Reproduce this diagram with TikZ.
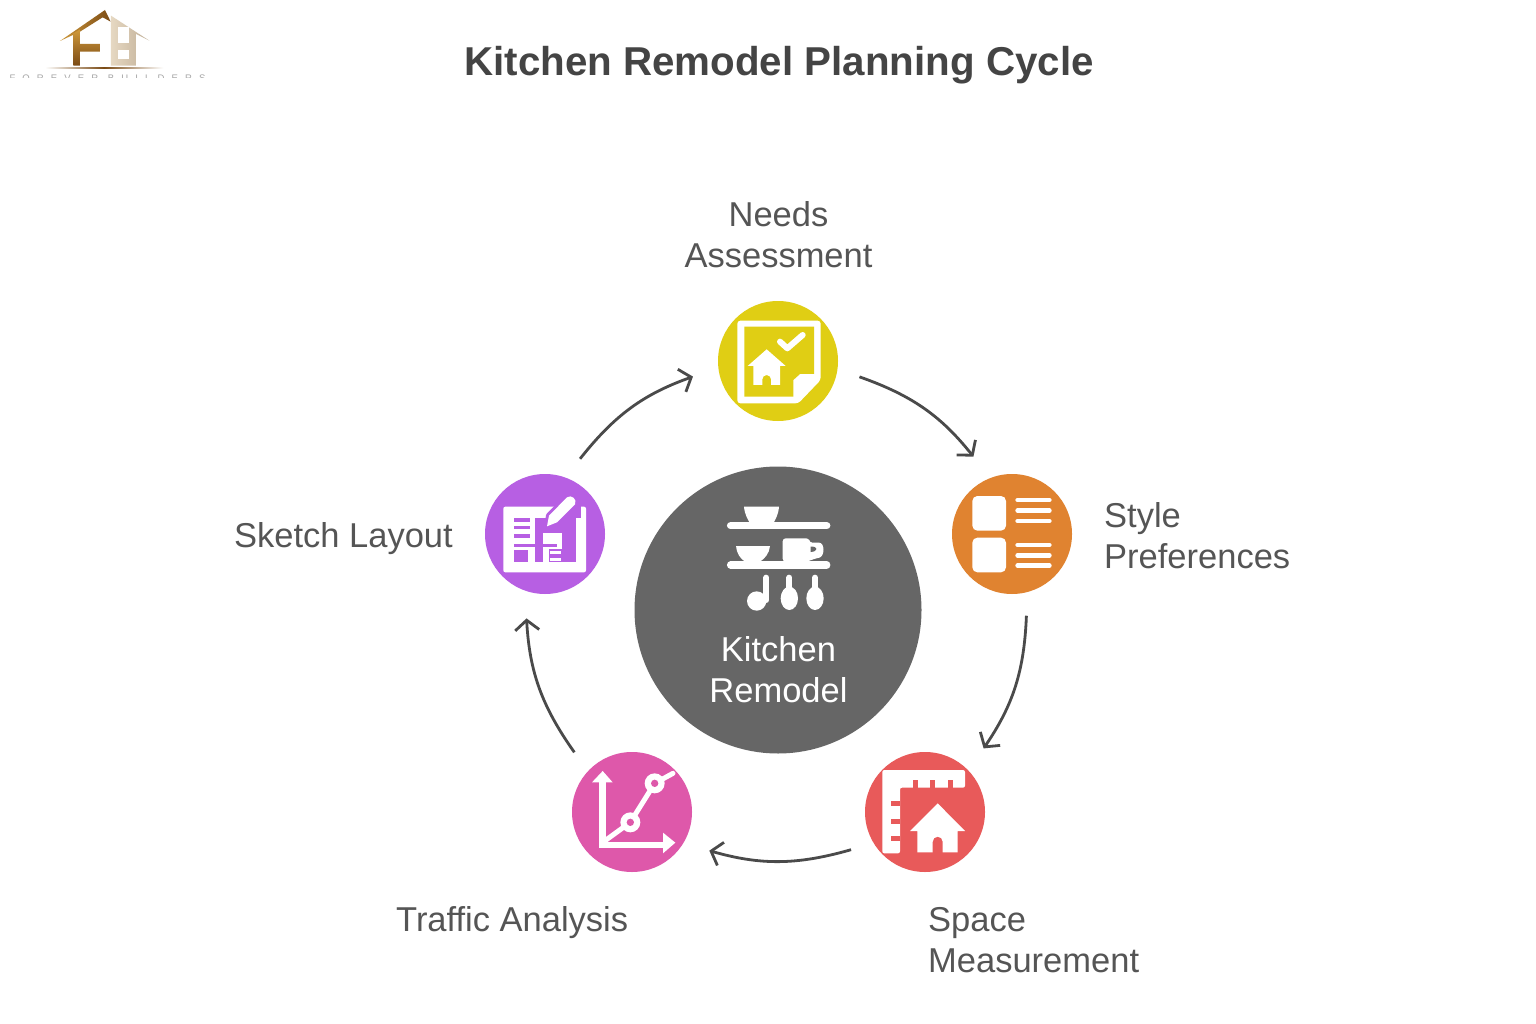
\documentclass[tikz,border=0pt]{standalone}
\usepackage{fontspec}
\setmainfont{Liberation Sans}
\usetikzlibrary{arrows.meta}
\definecolor{needscol}{HTML}{E0CE14}
\definecolor{stylecol}{HTML}{E08330}
\definecolor{spacecol}{HTML}{E85A5A}
\definecolor{trafficcol}{HTML}{DE58AA}
\definecolor{sketchcol}{HTML}{B75FE3}
\definecolor{hubcol}{HTML}{666666}
\definecolor{labelcol}{HTML}{555555}
\definecolor{titlecol}{HTML}{444444}
\definecolor{arrowcol}{HTML}{4A4A4A}
\definecolor{logobrown}{HTML}{7A4A14}
\definecolor{logogold}{HTML}{D09A3C}
\definecolor{logosand}{HTML}{E6D8C2}
\definecolor{logotan}{HTML}{BFAE96}
\tikzset{
  stage/.style={circle,minimum size=120pt,inner sep=0pt,outer sep=23pt},
  steplabel/.style={inner sep=0pt,text=labelcol,font=\fontsize{34.5}{41}\selectfont},
  flow/.style={draw=arrowcol,line width=2.8pt,-{Straight Barb[length=10pt,width=24pt]},shorten >=3.5pt,bend left=16},
  thickwhite/.style={draw=white,line cap=round,line join=round},
}
\begin{document}
\begin{tikzpicture}[x=1pt,y=-1pt]
  \useasboundingbox (0,0) rectangle (1536,1024);
  \fill[white] (0,0) rectangle (1536,1024);
  % logo
  \begin{scope}[scale=1/3]
    \shade[left color=logogold,right color=logobrown] (180,123) -- (315,30) -- (332,65) -- (308,52) -- (240,95) -- cycle;
    \shade[top color=logogold,bottom color=logobrown] (220,100) -- (240,88) -- (240,132) -- (300,132) -- (300,155) -- (240,155) -- (240,197) -- (220,197) -- cycle;
    \shade[left color=logosand,right color=logotan] (333,47) -- (448,122) -- (408,102) -- (408,197) -- (333,197) -- cycle;
    \fill[white] (355,80) rectangle (388,128);
    \fill[white] (355,150) rectangle (388,178);
    \shade[left color=white,right color=logobrown] (135,204) rectangle (312,207);
    \shade[left color=logobrown,right color=white] (312,204) rectangle (490,207);
    \clip (0,222) rectangle (640,232);
    \node[inner sep=0pt,anchor=north west,text=gray!70,font=\fontsize{9.5}{9.5}\selectfont\addfontfeatures{LetterSpace=75}] (logotext) at (28,225) {FOREVER BUILDERS};
  \end{scope}
  \node[inner sep=0pt,text=titlecol,font=\fontsize{40.3}{48}\selectfont\bfseries] (title) at (779,65) {Kitchen Remodel Planning Cycle};

  % circles
  \node[stage,fill=needscol] (needs) at (778,361) {};
  \node[stage,fill=stylecol] (style) at (1012,534) {};
  \node[stage,fill=spacecol] (space) at (925,812) {};
  \node[stage,fill=trafficcol] (traffic) at (632,812) {};
  \node[stage,fill=sketchcol] (sketch) at (545,534) {};
  \node[circle,fill=hubcol,minimum size=287pt,inner sep=0pt] (hub) at (778,610) {};

  % cycle arrows
  \draw[flow] (needs.-11) to (style.116);
  \draw[flow] (style.-80) to (space.47);
  \draw[flow] (space.-153) to (traffic.-27);
  \draw[flow] (traffic.134) to (sketch.257);
  \draw[flow] (sketch.65) to (needs.190);

  % labels
  \node[steplabel,align=center] (needslabel) at (778.5,235) {Needs\\Assessment};
  \node[steplabel,align=left,anchor=west] (stylelabel) at (1104,535.5) {Style\\Preferences};
  \node[steplabel,align=left,anchor=west] (spacelabel) at (928,940) {Space\\Measurement};
  \node[steplabel,anchor=west] (trafficlabel) at (396,923) {Traffic Analysis};
  \node[steplabel,anchor=east] (sketchlabel) at (453,539) {Sketch Layout};
  \node[inner sep=0pt,align=center,text=white,font=\fontsize{34.5}{41}\selectfont] (hublabel) at (778.5,670) {Kitchen\\Remodel};

  % needs icon
  \begin{scope}[shift={(700,290)},scale=1/3]
    \fill[white,rounded corners=3pt] (112,92) -- (362,92) -- (362,270) -- (295,340) -- (112,340) -- cycle;
    \fill[needscol] (133,110) -- (342,110) -- (342,252) -- (300,252) -- (280,270) -- (280,320) -- (133,320) -- cycle;
    \draw[thickwhite,line width=6pt] (240,155) -- (262,175) -- (308,135);
    \fill[white] (200,178) -- (257,228) -- (240,228) -- (240,285) -- (213,285) -- (213,268) arc (0:-180:13) -- (187,285) -- (160,285) -- (160,228) -- (143,228) -- cycle;
  \end{scope}

  % style icon
  \begin{scope}[shift={(940,465)},scale=1/3]
    \fill[white,rounded corners=5pt] (97,93) rectangle (198,197);
    \fill[white,rounded corners=5pt] (97,218) rectangle (198,322);
    \foreach \ypos in {105,137,168,240,271,302}
      \draw[thickwhite,line width=4.7pt] (233,\ypos) -- (328,\ypos);
  \end{scope}

  % space icon
  \begin{scope}[shift={(855,745)},scale=1/3]
    \fill[white,rounded corners=2pt] (82,75) -- (330,75) -- (330,128) -- (135,128) -- (135,325) -- (82,325) -- cycle;
    \foreach \xpos in {180,232,285}
      \draw[spacecol,line width=5pt] (\xpos,128) -- (\xpos,105);
    \foreach \ypos in {175,228,280}
      \draw[spacecol,line width=5pt] (135,\ypos) -- (108,\ypos);
    \fill[white] (248,175) -- (330,258) -- (308,258) -- (308,322) -- (263,322) -- (263,290) arc (0:-180:15) -- (233,322) -- (187,322) -- (187,258) -- (165,258) -- cycle;
  \end{scope}

  % traffic icon
  \begin{scope}[shift={(562,745)},scale=1/3]
    \draw[white,line width=6.5pt,line join=miter] (122,105) -- (122,300) -- (310,300);
    \fill[white] (90,112) -- (122,78) -- (152,112) -- cycle;
    \fill[white] (303,263) -- (340,293) -- (303,325) -- cycle;
    \draw[thickwhite,line width=5pt] (125,290) -- (205,232) -- (278,115) -- (333,85);
    \foreach \xpos/\ypos in {205/232,278/115} {
      \fill[white] (\xpos,\ypos) circle (30);
      \fill[trafficcol] (\xpos,\ypos) circle (11);
    }
  \end{scope}

  % sketch icon
  \begin{scope}[shift={(475,465)},scale=1/3]
    \fill[white,rounded corners=2pt] (85,125) rectangle (333,322);
    \fill[sketchcol] (118,158) rectangle (165,170);
    \fill[sketchcol] (118,182) rectangle (165,192);
    \fill[sketchcol] (118,208) rectangle (165,218);
    \fill[sketchcol] (118,236) rectangle (245,245);
    \fill[sketchcol] (118,254) rectangle (160,290);
    \fill[sketchcol] (180,158) rectangle (303,205);
    \fill[sketchcol] (262,205) rectangle (303,290);
    \fill[sketchcol] (180,205) rectangle (205,290);
    \fill[sketchcol] (222,252) rectangle (262,290);
    \fill[white] (225,258) rectangle (258,266);
    \fill[white] (225,280) rectangle (258,288);
    \fill[sketchcol] (240,118) rectangle (318,160);
    \draw[sketchcol,line width=6pt,line join=round] (216,184) -- (222,152) -- (276,97) .. controls (288,88) and (308,102) .. (300,118) -- (246,172) -- cycle;
    \fill[white] (216,184) -- (222,152) -- (276,97) .. controls (288,88) and (308,102) .. (300,118) -- (246,172) -- cycle;
  \end{scope}

  % hub icon
  \begin{scope}[shift={(710,490)},scale=1/3]
    \draw[thickwhite,line width=7.5pt] (62,107) -- (350,107);
    \draw[thickwhite,line width=7.5pt] (62,225) -- (350,225);
    \fill[white] (102,50) -- (207,50) .. controls (205,75) and (195,90) .. (190,100) -- (120,100) .. controls (115,90) and (104,75) .. (102,50) -- cycle;
    \fill[white] (78,168) -- (180,168) .. controls (178,190) and (165,205) .. (150,215) -- (105,215) .. controls (90,205) and (80,190) .. (78,168) -- cycle;
    \fill[white,rounded corners=3pt] (218,145) -- (298,145) -- (298,158) -- (318,158) .. controls (345,158) and (345,200) .. (318,205) -- (290,215) -- (218,215) -- cycle;
    \fill[hubcol] (302,170) .. controls (325,168) and (325,185) .. (302,186) -- cycle;
    \draw[thickwhite,line width=6pt] (169,263) -- (169,330);
    \fill[white] (140,333) circle (29);
    \fill[white] (238,325) ellipse (26 and 35);
    \fill[white] (315,325) ellipse (26 and 35);
    \draw[thickwhite,line width=6pt] (238,263) -- (238,320);
    \draw[thickwhite,line width=6pt] (315,263) -- (315,320);
  \end{scope}
\end{tikzpicture}
\end{document}
